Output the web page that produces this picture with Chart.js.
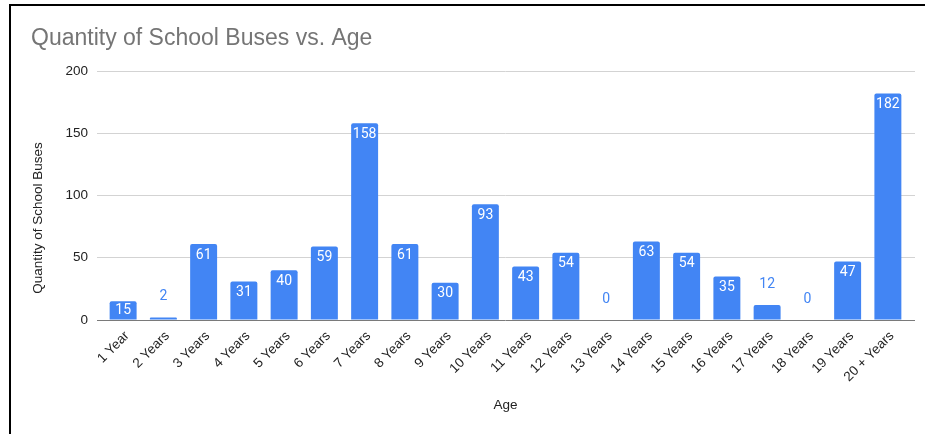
<!DOCTYPE html>
<html>
<head>
<meta charset="utf-8">
<script src="https://cdn.jsdelivr.net/npm/chart.js@4.4.1/dist/chart.umd.min.js"></script>
<style>
  html, body { margin: 0; padding: 0; background: #fff; }
  #wrap { position: relative; width: 925px; height: 434px; }
  #frame {
    position: absolute; left: 9px; top: 4px; right: 0; bottom: 0;
    border-left: 2px solid #000; border-top: 2px solid #000;
    pointer-events: none;
  }
</style>
</head>
<body>
<div id="wrap">
  <canvas id="busChart"></canvas>
  <div id="frame"></div>
</div>
<script>
// chart data
const ageLabels = ['1 Year', '2 Years', '3 Years', '4 Years', '5 Years', '6 Years', '7 Years',
    '8 Years', '9 Years', '10 Years', '11 Years', '12 Years', '13 Years', '14 Years',
    '15 Years', '16 Years', '17 Years', '18 Years', '19 Years', '20 + Years'];
const busCounts = [15, 2, 61, 31, 40, 59, 158, 61, 30, 93, 43, 54, 0, 63, 54, 35, 12, 0, 47, 182];
const yTicks = [0, 50, 100, 150, 200];
const yTitle = 'Quantity of School Buses';

const AXIS_FONT = "'Liberation Sans', Arial, sans-serif";
const BLUE = '#4285F4';

const gridColor = (c) => c.tick && c.tick.value === 0 ? '#7a7a7a' : '#d3d3d3';

// value labels: inside bar top (white) or above short bars (blue)
const valueLabels = {
    id: 'valueLabels',
    afterDatasetsDraw: (chart) => {
        const ctx = chart.ctx;
        const meta = chart.getDatasetMeta(0);
        ctx.save();
        ctx.font = '14px Roboto';
        ctx.textAlign = 'center';
        ctx.textBaseline = 'middle';
        meta.data.forEach((bar, i) => {
            const v = busCounts[i];
            const h = bar.base - bar.y;
            if (h >= 17) {
                ctx.fillStyle = '#ffffff';
                ctx.fillText(String(v), bar.x, Math.min(bar.y + 11, (bar.y + bar.base) / 2));
            } else {
                ctx.fillStyle = BLUE;
                ctx.fillText(String(v), bar.x, bar.y - 21);
            }
        });
        ctx.restore();
    }
};

// y axis title, centred a bit lower than the plot area like the original
const sideTitle = {
    id: 'sideTitle',
    afterDraw: (chart) => {
        const ctx = chart.ctx;
        ctx.save();
        ctx.translate(38, 218);
        ctx.rotate(-Math.PI / 2);
        ctx.font = '13.5px ' + AXIS_FONT;
        ctx.fillStyle = '#222';
        ctx.textAlign = 'center';
        ctx.textBaseline = 'middle';
        ctx.fillText(yTitle, 0, 0);
        ctx.restore();
    }
};

const ctx = document.getElementById('busChart').getContext('2d');
new Chart(ctx, {
    type: 'bar',
    data: {
        labels: ageLabels,
        datasets: [{
            label: yTitle,
            data: busCounts,
            backgroundColor: BLUE,
            borderRadius: { topLeft: 2, topRight: 2 },
            borderSkipped: 'start',
            categoryPercentage: 1,
            barPercentage: 0.67
        }]
    },
    options: {
        responsive: true,
        maintainAspectRatio: false,
        animation: false,
        layout: { padding: { left: 31, right: 10, top: 0, bottom: 0 } },
        plugins: {
            legend: { display: false },
            tooltip: { enabled: false },
            title: {
                display: true,
                text: 'Quantity of School Buses vs. Age',
                align: 'start',
                color: '#757575',
                font: { family: AXIS_FONT, size: 23, weight: 'normal' },
                padding: { top: 25, bottom: 18.4 }
            }
        },
        scales: {
            x: {
                grid: { display: false, drawTicks: false },
                border: { display: false },
                ticks: {
                    minRotation: 45,
                    maxRotation: 45,
                    autoSkip: false,
                    padding: 8,
                    labelOffset: 4,
                    color: '#222',
                    font: { family: AXIS_FONT, size: 13.5 }
                },
                title: {
                    display: true,
                    text: 'Age',
                    color: '#222',
                    font: { family: AXIS_FONT, size: 13.5 },
                    padding: { top: 0, bottom: 20.4 }
                },
                afterFit: (s) => { s.height = 114; }
            },
            y: {
                min: yTicks[0],
                max: yTicks[yTicks.length - 1],
                afterBuildTicks: (s) => { s.ticks = yTicks.map(v => ({ value: v })); },
                ticks: {
                    padding: 9,
                    color: '#222',
                    font: { family: AXIS_FONT, size: 13.5 }
                },
                grid: { color: gridColor, tickColor: gridColor, drawTicks: true, tickLength: 6 },
                border: { display: false },
                afterFit: (s) => { s.width = 72; }
            },
            y2: {
                position: 'right',
                min: yTicks[0],
                max: yTicks[yTicks.length - 1],
                afterBuildTicks: (s) => { s.ticks = yTicks.map(v => ({ value: v })); },
                ticks: { display: false },
                grid: { drawOnChartArea: false, color: gridColor, tickColor: gridColor, drawTicks: true, tickLength: 7 },
                border: { display: false }
            }
        }
    },
    plugins: [valueLabels, sideTitle]
});
</script>
</body>
</html>
